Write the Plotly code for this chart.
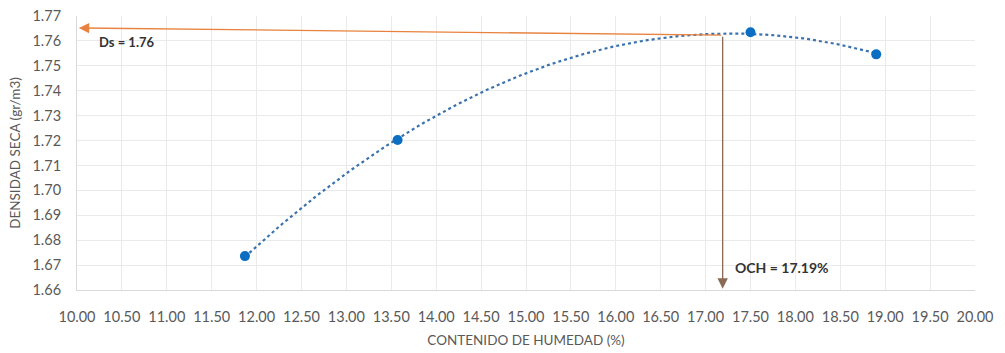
import numpy as np
import plotly.graph_objects as go

humedad = [11.87, 13.57, 17.50, 18.90]
densidad = [1.6736, 1.7202, 1.7635, 1.7546]
och = 17.19
ds = 1.7623
ds_arrow_end = 1.7652

x_ticks = [10 + 0.5 * i for i in range(21)]
y_ticks = [round(1.66 + 0.01 * i, 2) for i in range(12)]

# Excel-style polynomial (order 2) trendline
coef = np.polyfit(humedad, densidad, 2)
xt = np.linspace(min(humedad), max(humedad), 200)
yt = np.polyval(coef, xt)

fig = go.Figure()
fig.add_trace(go.Scatter(x=xt, y=yt, mode="lines",
                         line=dict(color="#3A72AE", width=2.2, dash="dot"),
                         hoverinfo="skip", showlegend=False))
fig.add_trace(go.Scatter(x=humedad, y=densidad, mode="markers",
                         marker=dict(color="#0A6EC2", size=10),
                         showlegend=False))

arrow_col = "#E8823E"
fig.add_annotation(x=10.02, y=ds_arrow_end, ax=och, ay=ds, xref="x", yref="y",
                   axref="x", ayref="y", showarrow=True, arrowhead=2,
                   arrowsize=1.6, arrowwidth=1.3, arrowcolor=arrow_col, text="")
fig.add_annotation(x=och, y=1.6605, ax=och, ay=ds, xref="x", yref="y",
                   axref="x", ayref="y", showarrow=True, arrowhead=2,
                   arrowsize=1.6, arrowwidth=1.3, arrowcolor="#8A6A55", text="")
fig.add_annotation(x=10.22, y=1.7595, xref="x", yref="y", text="<b>Ds = 1.76</b>",
                   showarrow=False, xanchor="left",
                   font=dict(family="Lato, Open Sans, sans-serif", size=13, color="#333333"))
fig.add_annotation(x=17.31, y=1.6691, xref="x", yref="y", text="<b>OCH = 17.19%</b>",
                   showarrow=False, xanchor="left", yanchor="middle",
                   font=dict(family="Lato, Open Sans, sans-serif", size=14, color="#333333"))

fig.update_layout(
    width=1005, height=353,
    margin=dict(l=77, r=30, t=16, b=63),
    paper_bgcolor="white", plot_bgcolor="white",
    font=dict(family="Lato, Open Sans, sans-serif", size=14, color="#595959"),
    xaxis=dict(range=[10, 20], tickvals=x_ticks, automargin=False,
               ticktext=[f"{v:.2f}" for v in x_ticks],
               showgrid=True, gridcolor="#EAEAEA", gridwidth=1,
               showline=True, linecolor="#D9D9D9", zeroline=False,
               ticks="", ticklabelstandoff=14, tickfont=dict(size=14.5),
               title=dict(text="CONTENIDO DE HUMEDAD (%)", standoff=11,
                          font=dict(size=13.5, color="#595959"))),
    yaxis=dict(range=[1.66, 1.77], tickvals=y_ticks, automargin=False,
               ticktext=[f"{v:.2f}" for v in y_ticks],
               showgrid=True, gridcolor="#EAEAEA", gridwidth=1,
               showline=True, linecolor="#D9D9D9", zeroline=False,
               ticks="", ticklabelstandoff=12, tickfont=dict(size=14.5),
               title=dict(text="DENSIDAD SECA (gr/m3)", standoff=8,
                          font=dict(size=13.5, color="#595959"))),
)

fig.write_html("out.html")
